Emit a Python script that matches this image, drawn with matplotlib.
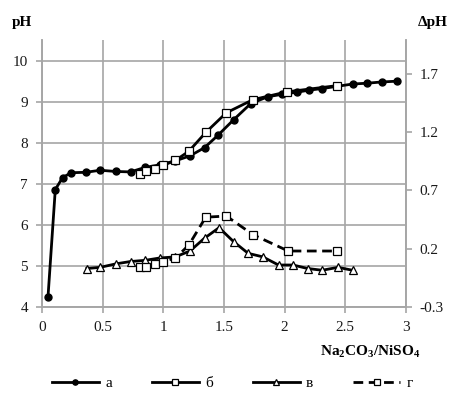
import numpy as np
import matplotlib.pyplot as plt

plt.rcParams['font.family'] = ['Liberation Serif', 'DejaVu Serif']
plt.rcParams['mathtext.fontset'] = 'custom'
plt.rcParams['mathtext.rm'] = 'Liberation Serif'
plt.rcParams['mathtext.bf'] = 'Liberation Serif:bold'

# curve a (pH, filled circles)
x_a = [0.05, 0.11, 0.17, 0.24, 0.36, 0.48, 0.61, 0.73, 0.85, 0.97, 1.10, 1.22,
       1.34, 1.45, 1.58, 1.72, 1.86, 1.98, 2.10, 2.20, 2.31, 2.56, 2.68, 2.80, 2.93]
ph_a = [4.25, 6.86, 7.15, 7.27, 7.28, 7.33, 7.30, 7.29, 7.40, 7.46, 7.56, 7.68,
        7.88, 8.18, 8.56, 8.95, 9.12, 9.18, 9.23, 9.28, 9.32, 9.43, 9.45, 9.48, 9.50]

# curve b (pH, open squares)
x_b = [0.81, 0.86, 0.93, 1.00, 1.10, 1.21, 1.35, 1.52, 1.74, 2.02, 2.43]
ph_b = [7.25, 7.30, 7.37, 7.45, 7.57, 7.79, 8.25, 8.73, 9.05, 9.24, 9.39]

# curve v (dpH, triangles)
x_v = [0.37, 0.48, 0.61, 0.73, 0.85, 0.97, 1.10, 1.22, 1.34, 1.46, 1.58, 1.70,
       1.82, 1.95, 2.07, 2.19, 2.31, 2.44, 2.56]
dph_v = [0.03, 0.04, 0.07, 0.09, 0.10, 0.12, 0.13, 0.18, 0.29, 0.38, 0.26, 0.16,
         0.13, 0.06, 0.06, 0.03, 0.015, 0.04, 0.015]

# curve g (dpH, dashed, open squares)
x_g = [0.81, 0.86, 0.93, 1.00, 1.10, 1.21, 1.35, 1.52, 1.74, 2.03, 2.43]
dph_g = [0.04, 0.04, 0.07, 0.09, 0.12, 0.23, 0.47, 0.48, 0.32, 0.18, 0.18]

fig = plt.figure(figsize=(4.51, 4.05), dpi=100)
ax = fig.add_axes([0.093, 0.242, 0.807, 0.659])
ax2 = ax.twinx()

grid_c = '#a6a6a6'
lw = 2.0

la, = ax.plot(x_a, ph_a, color='black', lw=lw, marker='o', ms=5, zorder=3)
lb, = ax.plot(x_b, ph_b, color='black', lw=lw, marker='s', ms=6,
              mfc='white', mec='black', mew=0.9, zorder=4)
lv, = ax2.plot(x_v, dph_v, color='black', lw=lw, marker='^', ms=6,
               mfc='white', mec='black', mew=0.9, zorder=3)
lg, = ax2.plot(x_g, dph_g, color='black', lw=lw, ls=(0, (3.5, 2)), marker='s', ms=6,
               mfc='white', mec='black', mew=0.9, zorder=4)

ax.set_xlim(0, 3)
ax.set_ylim(4, 10.5)
ax.set_xticks(np.arange(0, 3.01, 0.5))
ax.set_xticklabels(['0', '0.5', '1', '1.5', '2', '2.5', '3'])
ax.set_yticks([4, 5, 6, 7, 8, 9, 10])
ax.grid(True, color=grid_c, lw=1.2)
ax.set_axisbelow(True)

# right axis scaled to match left
ph_per_d = 2.84
ax2.set_ylim(-0.3, -0.3 + 6.5 / ph_per_d)
ax2.set_yticks([-0.3, 0.2, 0.7, 1.2, 1.7])
ax2.set_yticklabels(['-0.3', '0.2', '0.7', '1.2', '1.7'])

for a in (ax, ax2):
    a.spines['top'].set_visible(False)
    for s in ('left', 'right', 'bottom'):
        a.spines[s].set_color(grid_c)
        a.spines[s].set_linewidth(1.2)
    a.tick_params(colors=grid_c, labelcolor='#1a1a1a', labelsize=11,
                  length=4, width=1.2, pad=6)

fig.text(0.027, 0.945, 'pH', fontsize=11, fontweight='bold', ha='left', va='center')
fig.text(0.993, 0.945, 'ΔpH', fontsize=11, fontweight='bold', ha='right', va='center')
fig.text(0.82, 0.131, r'$\mathbf{Na_2CO_3/NiSO_4}$', fontsize=11,
         ha='center', va='center')

fig.legend([la, lb, lv, lg], ['а', 'б', 'в', 'г'], loc='center', ncol=4,
           bbox_to_anchor=(0.515, 0.054), frameon=False, fontsize=11,
           handlelength=3.1, columnspacing=2.6, handletextpad=0.4, markerscale=0.75)

fig.savefig('out.png', dpi=100)
